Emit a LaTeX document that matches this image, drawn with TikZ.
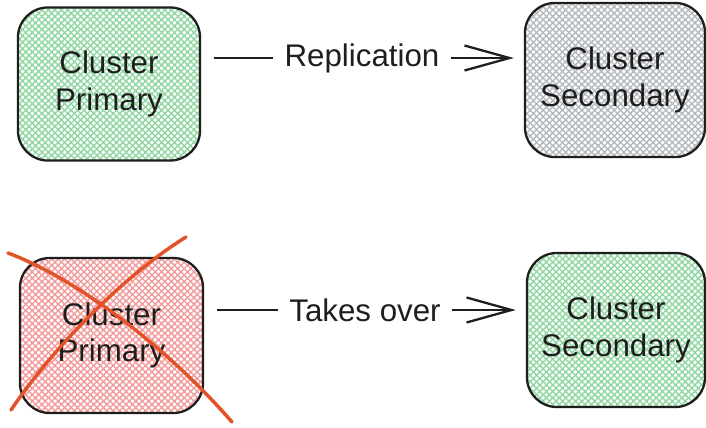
\documentclass[tikz,border=0pt]{standalone}
\usepackage{fontspec}
\setmainfont{Liberation Sans}
\usetikzlibrary{arrows.meta,patterns.meta}
\definecolor{ink}{HTML}{1E1E1E}
\definecolor{hgreen}{HTML}{8FD6A0}
\definecolor{hgray}{HTML}{B4B9BE}
\definecolor{hred}{HTML}{F29A9A}
\definecolor{cross}{HTML}{E2532A}
\tikzset{
  hatch/.style={preaction={pattern={Lines[angle=45,distance=1.3pt,line width=0.4pt]},pattern color=#1},
    pattern={Lines[angle=-45,distance=1.3pt,line width=0.4pt]},pattern color=#1},
  cluster/.style={draw=ink,line width=0.65pt,rounded corners=0.3cm,align=center,text=ink,
    font=\fontsize{8.9}{10.4}\selectfont,minimum width=1.82cm,minimum height=1.53cm,inner sep=0pt},
  tag/.style={text=ink,font=\fontsize{8.9}{10.4}\selectfont,inner xsep=0.11cm,inner ysep=0pt},
  link/.style={draw=ink,line width=0.65pt},
  barb/.style={-{Straight Barb[length=0.45cm,width=0.25cm,line width=0.65pt]}}
}
\begin{document}
\begin{tikzpicture}[x=0.01cm,y=-0.01cm]
\useasboundingbox (0,0) rectangle (706,427);

% replication
\node[cluster,hatch=hgreen] (p1) at (109,84) {Cluster\\Primary};
\node[cluster,hatch=hgray,minimum width=1.8cm,minimum height=1.54cm] (s1) at (615,80) {Cluster\\Secondary};
\node[tag] (rep) at (362,58) {Replication};
\draw[link,shorten <=0.13cm] (p1.east |- rep.west) -- (rep.west);
\draw[link,barb,shorten >=0.1cm] (rep.east) -- (s1.west |- rep.east);

% failover
\node[cluster,hatch=hred,minimum width=1.83cm,minimum height=1.55cm] (p2) at (111.5,335.5) {Cluster\\Primary};
\node[cluster,hatch=hgreen,minimum width=1.78cm,minimum height=1.54cm] (s2) at (616,330) {Cluster\\Secondary};
\node[tag] (take) at (365,310) {Takes over};
\draw[link,shorten <=0.13cm] (p2.east |- take.west) -- (take.west);
\draw[link,barb,shorten >=0.1cm] (take.east) -- (s2.west |- take.east);

\draw[cross,line width=1pt,line cap=round] (8,253) .. controls (75,278) and (165,345) .. (232,422);
\draw[cross,line width=1pt,line cap=round] (186,237) .. controls (125,275) and (55,345) .. (11,410);
\end{tikzpicture}
\end{document}
